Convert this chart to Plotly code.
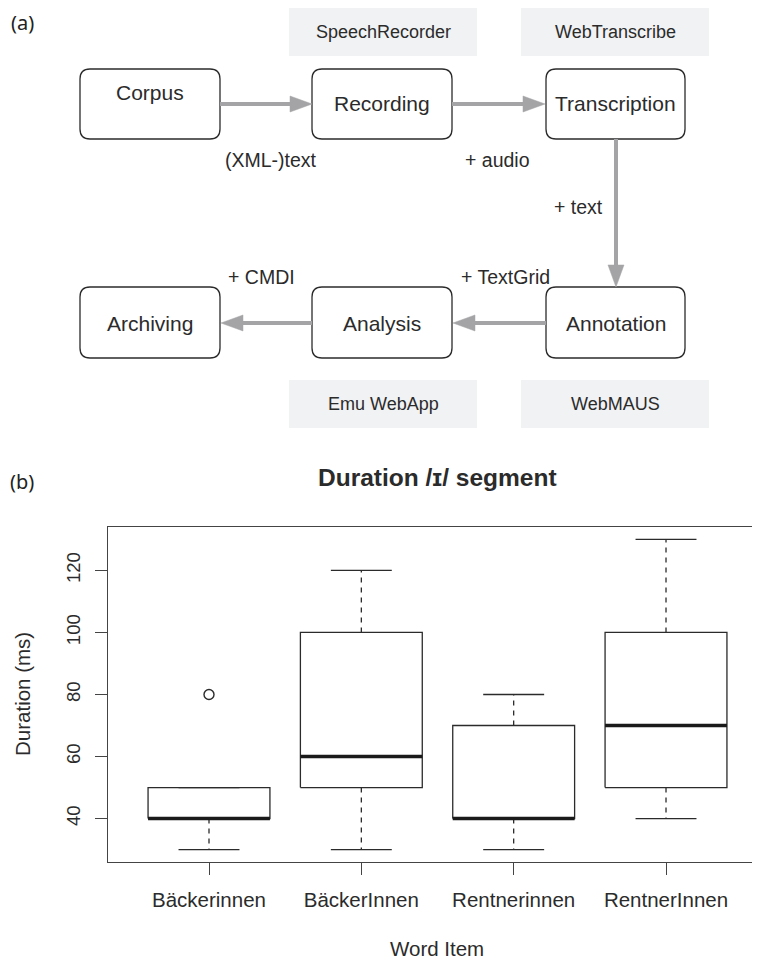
import plotly.graph_objects as go

# ---------------- data ----------------
categories = ["Bäckerinnen", "BäckerInnen", "Rentnerinnen", "RentnerInnen"]
whisker_low = [30, 30, 30, 40]
q1 = [40, 50, 40, 50]
median = [40, 60, 40, 70]
q3 = [50, 100, 70, 100]
whisker_high = [50, 120, 80, 130]
outlier_category = ["Bäckerinnen"]
outlier_value = [80]
y_ticks = [40, 60, 80, 100, 120]

steps_row1 = ["Corpus", "Recording", "Transcription"]
steps_row2 = ["Archiving", "Analysis", "Annotation"]
tools_top = ["SpeechRecorder", "WebTranscribe"]
tools_bottom = ["Emu WebApp", "WebMAUS"]
edge_labels = ["(XML-)text", "+ audio", "+ text", "+ TextGrid", "+ CMDI"]

chart_title = "Duration /ɪ/ segment"
x_title = "Word Item"
y_title = "Duration (ms)"

# ---------------- layout helpers (page pixel -> paper) ----------------
OFF = 8                     # default body margin of the html page
W, H = 760 - OFF, 961 - OFF
FONT = "Liberation Sans, Arial, Helvetica, sans-serif"
INK = "#2b2b2b"
ARROW = "#a4a4a7"
TOOLBG = "#f1f2f4"


def px(x):
    return (x - OFF) / W


def py(y):
    return 1 - (y - OFF) / H


def rounded_path(x0, y0, x1, y1, r):
    pts = [
        ("M", [(x0 + r, y0)]),
        ("L", [(x1 - r, y0)]),
        ("Q", [(x1, y0), (x1, y0 + r)]),
        ("L", [(x1, y1 - r)]),
        ("Q", [(x1, y1), (x1 - r, y1)]),
        ("L", [(x0 + r, y1)]),
        ("Q", [(x0, y1), (x0, y1 - r)]),
        ("L", [(x0, y0 + r)]),
        ("Q", [(x0, y0), (x0 + r, y0)]),
    ]
    s = ""
    for cmd, ps in pts:
        s += cmd + " " + " ".join(f"{px(a):.5f},{py(b):.5f}" for a, b in ps) + " "
    return s + "Z"


def tri_path(p1, p2, p3):
    return "M {} L {} L {} Z".format(*[f"{px(a):.5f},{py(b):.5f}" for a, b in (p1, p2, p3)])


shapes = []
annotations = []


def add_text(text, x, y, size, color=INK, family=FONT, bold=False, angle=0):
    annotations.append(dict(
        text=f"<b>{text}</b>" if bold else text,
        x=px(x), y=py(y), xref="paper", yref="paper",
        xanchor="center", yanchor="middle", showarrow=False,
        textangle=angle, borderpad=0,
        font=dict(family=family, size=size, color=color),
    ))


# workflow step boxes
step_boxes_row1 = [(80, 69, 220, 139), (312, 69, 452, 139), (546, 69, 685, 139)]
step_text_y_row1 = [92, 104, 104]
step_boxes_row2 = [(80, 287, 220, 358), (312, 287, 452, 358), (546, 287, 685, 358)]
for name, (x0, y0, x1, y1), ty in zip(steps_row1, step_boxes_row1, step_text_y_row1):
    shapes.append(dict(type="path", xref="paper", yref="paper",
                       path=rounded_path(x0, y0, x1, y1, 10),
                       line=dict(color=INK, width=1.3), fillcolor="white"))
    add_text(name, (x0 + x1) / 2, ty, 21)
for name, (x0, y0, x1, y1) in zip(steps_row2, step_boxes_row2):
    shapes.append(dict(type="path", xref="paper", yref="paper",
                       path=rounded_path(x0, y0, x1, y1, 10),
                       line=dict(color=INK, width=1.3), fillcolor="white"))
    add_text(name, (x0 + x1) / 2, (y0 + y1) / 2 + 1, 21)

# tool boxes
tool_boxes_top = [(289, 8, 477, 56), (521, 8, 709, 56)]
tool_boxes_bottom = [(289, 380, 477, 428), (521, 380, 709, 428)]
for name, (x0, y0, x1, y1) in list(zip(tools_top, tool_boxes_top)) + list(zip(tools_bottom, tool_boxes_bottom)):
    shapes.append(dict(type="rect", xref="paper", yref="paper",
                       x0=px(x0), x1=px(x1), y0=py(y1), y1=py(y0),
                       line=dict(width=0), fillcolor=TOOLBG, layer="below"))
    add_text(name, (x0 + x1) / 2, (y0 + y1) / 2, 18)

# arrows: (start, head base, tip, y)
horizontal_arrows = [
    (220, 290, 312, 104),
    (452, 523, 545, 104),
    (546, 475, 453, 323),
    (312, 243, 221, 323),
]
for xs, xb, xt, yy in horizontal_arrows:
    shapes.append(dict(type="line", xref="paper", yref="paper",
                       x0=px(xs), x1=px(xb), y0=py(yy), y1=py(yy),
                       line=dict(color=ARROW, width=4)))
    shapes.append(dict(type="path", xref="paper", yref="paper",
                       path=tri_path((xb, yy - 8), (xt, yy), (xb, yy + 8)),
                       line=dict(color=ARROW, width=0.5), fillcolor=ARROW))
# vertical arrow
vx, vy0, vyb, vyt = 616, 139, 265, 287
shapes.append(dict(type="line", xref="paper", yref="paper",
                   x0=px(vx), x1=px(vx), y0=py(vy0), y1=py(vyb),
                   line=dict(color=ARROW, width=4)))
shapes.append(dict(type="path", xref="paper", yref="paper",
                   path=tri_path((vx - 8, vyb), (vx, vyt), (vx + 8, vyb)),
                   line=dict(color=ARROW, width=0.5), fillcolor=ARROW))

edge_label_pos = [(271, 160), (498, 160), (578, 207), (505, 277), (261, 277)]
for lab, (x, y) in zip(edge_labels, edge_label_pos):
    add_text(lab, x, y, 19.5)

# panel letters
add_text("(a)", 22, 22, 20, color="#222", family="Noto Sans, Open Sans, sans-serif")
add_text("(b)", 22, 481, 20, color="#222", family="Noto Sans, Open Sans, sans-serif")

# boxplot titles
add_text(chart_title, 437, 477, 24.5, bold=True)
add_text(x_title, 437, 948, 20.5)
add_text(y_title, 22, 694, 20.5, angle=-90)

# ---------------- boxplot traces ----------------
fig = go.Figure()
pos = [i + 1 for i in range(len(categories))]
BW = 0.4
CW = 0.2

bx, by = [], []
mx, my = [], []
wx, wy = [], []
cx, cy = [], []
for p, lo, a, m, b, hi in zip(pos, whisker_low, q1, median, q3, whisker_high):
    bx += [p - BW, p + BW, p + BW, p - BW, p - BW, None]
    by += [a, a, b, b, a, None]
    mx += [p - BW, p + BW, None]
    my += [m, m, None]
    if hi > b:
        wx += [p, p, None]
        wy += [b, hi, None]
    if lo < a:
        wx += [p, p, None]
        wy += [a, lo, None]
    cx += [p - CW, p + CW, None, p - CW, p + CW, None]
    cy += [hi, hi, None, lo, lo, None]

fig.add_trace(go.Scatter(x=wx, y=wy, mode="lines", line=dict(color=INK, width=1.3, dash="5px,5px"),
                         hoverinfo="skip", showlegend=False))
fig.add_trace(go.Scatter(x=cx, y=cy, mode="lines", line=dict(color=INK, width=1.3),
                         hoverinfo="skip", showlegend=False))
fig.add_trace(go.Scatter(x=bx, y=by, mode="lines", line=dict(color=INK, width=1.3),
                         hoverinfo="skip", showlegend=False))
fig.add_trace(go.Scatter(x=mx, y=my, mode="lines", line=dict(color="#1a1a1a", width=3.5),
                         hoverinfo="skip", showlegend=False))
fig.add_trace(go.Scatter(x=[pos[categories.index(c)] for c in outlier_category], y=outlier_value,
                         mode="markers",
                         marker=dict(symbol="circle-open", size=10, color=INK, line=dict(width=1.4)),
                         hoverinfo="skip", showlegend=False))

fig.update_layout(
    width=W, height=H,
    margin=dict(l=0, r=0, t=0, b=0),
    paper_bgcolor="white", plot_bgcolor="white",
    shapes=shapes, annotations=annotations,
    xaxis=dict(domain=[px(108), 1], range=[0.337, 4.617],
               tickvals=pos, ticktext=categories,
               ticks="outside", ticklen=12, tickwidth=1.3, tickcolor="#444",
               ticklabelstandoff=7,
               showline=True, linecolor="#444", linewidth=1.3, mirror=True,
               showgrid=False, zeroline=False,
               tickfont=dict(family=FONT, size=20.5, color=INK)),
    yaxis=dict(domain=[py(862), py(527)], range=[26, 134],
               tickvals=y_ticks, tickangle=-90,
               ticks="outside", ticklen=12, tickwidth=1.3, tickcolor="#444",
               ticklabelstandoff=7,
               showline=True, linecolor="#444", linewidth=1.3,
               showgrid=False, zeroline=False,
               tickfont=dict(family=FONT, size=18.5, color=INK)),
)

fig.write_html("out.html")
